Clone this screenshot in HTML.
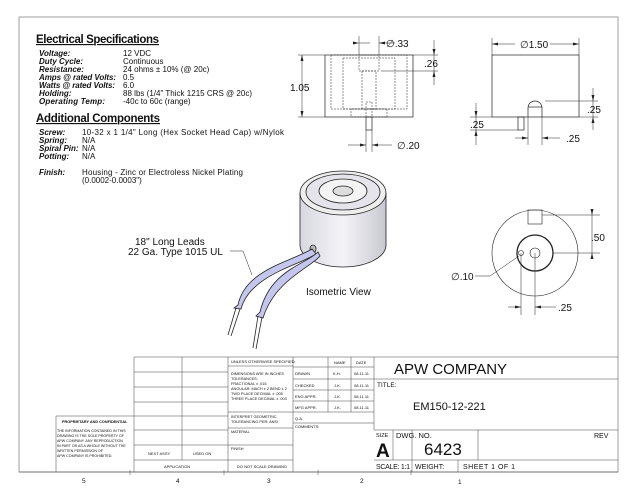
<!DOCTYPE html>
<html><head><style>
body{margin:0;background:#fff;width:640px;height:495px;overflow:hidden}
svg{display:block}
text{font-family:"Liberation Sans",sans-serif;fill:#111}
.b{font-weight:bold;font-style:italic;font-size:8px}
.n{font-size:8px}
</style></head><body>
<svg width="640" height="495" viewBox="0 0 640 495">
<rect x="19" y="17" width="599" height="455" fill="none" stroke="#888" stroke-width="0.8"/>
<!-- specs -->
<text x="36" y="43" font-size="11.5" font-weight="bold" text-decoration="underline" textLength="123">Electrical Specifications</text>
<text x="39" y="56" class="b">Voltage:</text><text x="39" y="64" class="b">Duty Cycle:</text><text x="39" y="72" class="b">Resistance:</text><text x="39" y="80" class="b" textLength="77">Amps @ rated Volts:</text><text x="39" y="88" class="b" textLength="76">Watts @ rated Volts:</text><text x="39" y="96" class="b">Holding:</text><text x="39" y="104" class="b" textLength="66">Operating Temp:</text>
<text x="123" y="56" class="n">12 VDC</text><text x="123" y="64" class="n">Continuous</text><text x="123" y="72" class="n">24 ohms ± 10% (@ 20c)</text><text x="123" y="80" class="n">0.5</text><text x="123" y="88" class="n">6.0</text><text x="123" y="96" class="n" textLength="129">88 lbs (1/4" Thick 1215 CRS @ 20c)</text><text x="123" y="104" class="n">-40c to 60c (range)</text>
<text x="36" y="122" font-size="11.5" font-weight="bold" text-decoration="underline" textLength="124">Additional Components</text>
<text x="39" y="135" class="b">Screw:</text><text x="39" y="143" class="b">Spring:</text><text x="39" y="151" class="b">Spiral Pin:</text><text x="39" y="159" class="b">Potting:</text><text x="39" y="175" class="b">Finish:</text>
<text x="82" y="135" class="n" textLength="202">10-32 x 1 1/4" Long (Hex Socket Head Cap) w/Nylok</text><text x="82" y="143" class="n">N/A</text><text x="82" y="151" class="n">N/A</text><text x="82" y="159" class="n">N/A</text><text x="82" y="175" class="n" textLength="161">Housing - Zinc or Electroless Nickel Plating</text><text x="82" y="183" class="n">(0.0002-0.0003")</text>
<!-- front view -->
<g stroke="#222" fill="none" stroke-width="0.7">
<rect x="325" y="55" width="88" height="62"/>
<rect x="366" y="117" width="6" height="13"/>
<g stroke-dasharray="2,1" stroke-width="0.5"><rect x="331" y="55" width="76" height="54"/><rect x="343" y="58" width="52" height="51"/><rect x="359" y="55" width="20" height="16"/><rect x="362" y="71" width="14" height="38"/><rect x="351" y="109" width="36" height="8"/><rect x="366" y="102" width="6" height="15"/></g>
<g stroke-width="0.5"><line x1="359" y1="36" x2="359" y2="55"/><line x1="379" y1="36" x2="379" y2="55"/><line x1="359" y1="43" x2="370" y2="43"/><line x1="379" y1="43" x2="395" y2="43"/>
<line x1="413" y1="55" x2="438" y2="55"/><line x1="381" y1="71" x2="438" y2="71"/><line x1="434" y1="40" x2="434" y2="85"/>
<line x1="302" y1="55" x2="302" y2="117"/><line x1="298" y1="55" x2="325" y2="55"/><line x1="298" y1="117" x2="325" y2="117"/>
<line x1="366" y1="130" x2="366" y2="152"/><line x1="372" y1="130" x2="372" y2="152"/><line x1="348" y1="145" x2="366" y2="145"/><line x1="372" y1="145" x2="392" y2="145"/></g>
<!-- right view -->
<rect x="492" y="55" width="87" height="62"/>
<path d="M528 117V108A7 7 0 0 1 542 108V117"/><line x1="528" y1="107" x2="542" y2="107"/>
<rect x="518" y="117" width="6" height="13"/>
<g stroke-width="0.5"><line x1="492" y1="38" x2="492" y2="55"/><line x1="579" y1="38" x2="579" y2="55"/><line x1="492" y1="44" x2="515" y2="44"/><line x1="550" y1="44" x2="579" y2="44"/>
<line x1="545" y1="101" x2="598" y2="101"/><line x1="579" y1="117" x2="598" y2="117"/><line x1="593" y1="88" x2="593" y2="130"/>
<line x1="470" y1="117" x2="492" y2="117"/><line x1="470" y1="130" x2="518" y2="130"/><line x1="476" y1="103" x2="476" y2="145"/>
<line x1="528" y1="117" x2="528" y2="145"/><line x1="542" y1="117" x2="542" y2="145"/><line x1="515" y1="138" x2="528" y2="138"/><line x1="542" y1="138" x2="560" y2="138"/></g>
</g>
<g fill="#222"><path d="M359 43l-6-1.5v3zM379 43l6-1.5v3zM434 55l-1.5-6h3zM434 71l-1.5 6h3zM302 55l-1.5 6h3zM302 117l-1.5-6h3zM366 145l-6-1.5v3zM372 145l6-1.5v3zM492 44l6-1.5v3zM579 44l-6-1.5v3zM593 101l-1.5-6h3zM593 117l-1.5 6h3zM476 117l-1.5-6h3zM476 130l-1.5 6h3zM528 138l-6-1.5v3zM542 138l6-1.5v3z"/></g>
<g font-size="10"><text x="386" y="47">∅.33</text><text x="424" y="67">.26</text><text x="290" y="91">1.05</text><text x="397" y="149">∅.20</text><text x="520" y="48">∅1.50</text><text x="587" y="113">.25</text><text x="470" y="128">.25</text><text x="566" y="142">.25</text>
<text x="591" y="241">.50</text><text x="451" y="280">∅.10</text><text x="558" y="311">.25</text><text x="135" y="245">18" Long Leads</text><text x="128" y="255">22 Ga. Type 1015 UL</text><text x="306" y="295">Isometric View</text></g>
<!-- isometric -->
<defs><linearGradient id="g" x1="0" x2="1"><stop offset="0" stop-color="#d8d8e0"/><stop offset=".5" stop-color="#f4f4f8"/><stop offset="1" stop-color="#c8c8d0"/></linearGradient></defs>
<g stroke="#222" stroke-width="0.8">
<path d="M300 193V245A43 22 0 0 0 386 245V193Z" fill="url(#g)"/>
<ellipse cx="343" cy="193" rx="43" ry="22" fill="#eee"/>
<ellipse cx="343" cy="192" rx="37" ry="18" fill="#e4e4ea"/>
<ellipse cx="343" cy="191" rx="24" ry="12" fill="#f4f4f4"/>
<ellipse cx="343" cy="191" rx="10" ry="5" fill="#ddd"/>
<ellipse cx="313" cy="249" rx="3" ry="4" fill="#bbb"/>
<path d="M312 249C290 262 245 270 238 305L234 308L241 309C250 275 300 265 316 254Z" fill="#c4c6ee"/>
<path d="M318 252C305 265 270 270 260 312L256 316L263 318C275 280 310 268 320 256Z" fill="#c4c6ee"/>
<line x1="236" y1="308" x2="228" y2="335"/><line x1="240" y1="309" x2="231" y2="336"/>
<line x1="258" y1="316" x2="253" y2="348"/><line x1="262" y1="317" x2="256" y2="349"/>
</g>
<path d="M230 251H243L252 275" fill="none" stroke="#222" stroke-width="0.5"/>
<!-- bottom view -->
<g stroke="#222" fill="none">
<circle cx="535" cy="253" r="43" stroke-width="0.6"/>
<circle cx="535" cy="253" r="18" stroke-width="1.3"/>
<circle cx="535" cy="253" r="5" stroke-width="0.6"/>
<circle cx="521" cy="253" r="2.5" stroke-width="0.6"/>
<rect x="528" y="210" width="14" height="14" stroke-width="0.6"/>
<g stroke-width="0.5"><line x1="542" y1="215" x2="600" y2="215"/><line x1="553" y1="253" x2="600" y2="253"/><line x1="592" y1="210" x2="592" y2="258"/>
<line x1="521" y1="253" x2="521" y2="315"/><line x1="535" y1="253" x2="535" y2="315"/><line x1="508" y1="307" x2="521" y2="307"/><line x1="535" y1="307" x2="556" y2="307"/>
<path d="M475 276H490L519 256"/></g></g>
<g fill="#222"><path d="M592 215l-1.5-6h3zM592 253l-1.5 6h3zM521 307l-6-1.5v3zM535 307l6-1.5v3z"/></g>
<!-- title block -->
<g stroke="#444" stroke-width="0.5" fill="none">
<path d="M134 357H618M134 357V472M182 357V460M228 357V472M293 357V472M328 357V412M351 357V412M374 357V430M56 416H134M56 416V472M19 472H618"/>
<path d="M134 372H228M134 387H228M134 402H228M134 416H228M134 430H228M134 445H228M134 460H293"/>
<path d="M228 366H293M228 412H293M228 428H293M228 445H293"/>
<path d="M293 367H374M293 379H374M293 390H374M293 401H374M293 412H374M293 423H374"/>
<path d="M374 379H618M374 430H618M374 460H618M393 430V460M412 430V472M458 460V472M478 430V460"/>
<path d="M130 470V475M224 470V475M318 470V475M411 470V475"/>
</g>
<g>
<text x="231" y="363" font-size="4">UNLESS OTHERWISE SPECIFIED:</text>
<text x="231" y="375" font-size="3.8">DIMENSIONS ARE IN INCHES</text><text x="231" y="380" font-size="3.8">TOLERANCES:</text><text x="231" y="385" font-size="3.8">FRACTIONAL ± .015</text><text x="231" y="390" font-size="3.8">ANGULAR: MACH ± 2   BEND ± 2</text><text x="231" y="395" font-size="3.8">TWO PLACE DECIMAL   ± .005</text><text x="231" y="400" font-size="3.8">THREE PLACE DECIMAL  ± .003</text>
<text x="231" y="418" font-size="3.8">INTERPRET GEOMETRIC</text><text x="231" y="423" font-size="3.8">TOLERANCING PER: ANSI</text>
<text x="231" y="433" font-size="3.8">MATERIAL</text><text x="231" y="450" font-size="3.8">FINISH</text><text x="237" y="468" font-size="4">DO NOT SCALE DRAWING</text>
<text x="148" y="455" font-size="4">NEXT ASSY</text><text x="193" y="455" font-size="4">USED ON</text><text x="164" y="468" font-size="4">APPLICATION</text>
<text x="62" y="423" font-size="3.8" font-weight="bold">PROPRIETARY AND CONFIDENTIAL</text>
<text x="57" y="432" font-size="3.6">THE INFORMATION CONTAINED IN THIS</text><text x="57" y="437" font-size="3.6">DRAWING IS THE SOLE PROPERTY OF</text><text x="57" y="442" font-size="3.6">APW COMPANY.  ANY REPRODUCTION</text><text x="57" y="447" font-size="3.6">IN PART OR AS A WHOLE WITHOUT THE</text><text x="57" y="452" font-size="3.6">WRITTEN PERMISSION OF</text><text x="57" y="457" font-size="3.6">APW COMPANY IS PROHIBITED.</text>
<text x="334" y="364" font-size="4">NAME</text><text x="356" y="364" font-size="4">DATE</text>
<text x="295" y="375" font-size="4">DRAWN</text><text x="333" y="375" font-size="4">K.H.</text><text x="354" y="375" font-size="4">08.11.11</text>
<text x="295" y="387" font-size="4">CHECKED</text><text x="334" y="387" font-size="4">J.K.</text><text x="354" y="387" font-size="4">08.11.11</text>
<text x="295" y="398" font-size="4">ENG APPR.</text><text x="334" y="398" font-size="4">J.K.</text><text x="354" y="398" font-size="4">08.11.11</text>
<text x="295" y="409" font-size="4">MFG APPR.</text><text x="334" y="409" font-size="4">J.K.</text><text x="354" y="409" font-size="4">08.11.11</text>
<text x="295" y="420" font-size="4">Q.A.</text><text x="295" y="428" font-size="4">COMMENTS:</text>
</g>
<text x="394" y="374" font-size="15">APW COMPANY</text>
<text x="377" y="387" font-size="6.5">TITLE:</text>
<text x="413" y="410" font-size="11">EM150-12-221</text>
<text x="376" y="437" font-size="5.5">SIZE</text><text x="376" y="457" font-size="19" font-weight="bold">A</text>
<text x="396" y="438" font-size="7.5">DWG.  NO.</text><text x="424" y="455" font-size="17">6423</text><text x="594" y="438" font-size="7">REV</text>
<text x="376" y="469" font-size="7" textLength="34">SCALE: 1:1</text><text x="415" y="469" font-size="7">WEIGHT:</text><text x="463" y="469" font-size="7" textLength="52">SHEET 1 OF 1</text>
<g font-size="6.5"><text x="82" y="483">5</text><text x="176" y="483">4</text><text x="267" y="483">3</text><text x="360" y="483">2</text><text x="458" y="484">1</text></g>
</svg>
</body></html>
